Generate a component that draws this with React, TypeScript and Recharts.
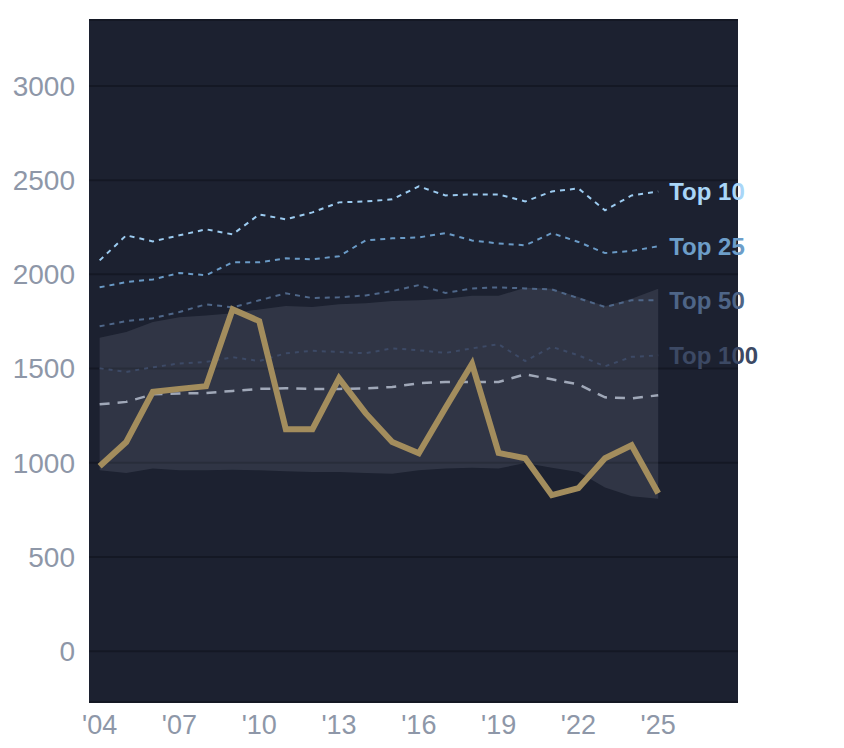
import { ComposedChart, Area, Line, XAxis, YAxis, CartesianGrid, LabelList } from 'recharts'

const years = [2004, 2005, 2006, 2007, 2008, 2009, 2010, 2011, 2012, 2013, 2014, 2015, 2016, 2017, 2018, 2019, 2020, 2021, 2022, 2023, 2024, 2025]

const top10 = [2074, 2207, 2175, 2207, 2239, 2212, 2318, 2292, 2329, 2382, 2387, 2398, 2467, 2419, 2424, 2424, 2387, 2440, 2456, 2340, 2419, 2440]
const top25 = [1931, 1959, 1973, 2007, 1995, 2064, 2064, 2085, 2080, 2096, 2180, 2191, 2196, 2219, 2180, 2164, 2154, 2219, 2172, 2113, 2124, 2149]
const top50 = [1724, 1752, 1767, 1800, 1841, 1825, 1862, 1899, 1874, 1878, 1888, 1911, 1943, 1901, 1925, 1931, 1925, 1920, 1873, 1827, 1862, 1862]
const top100 = [1501, 1482, 1507, 1527, 1535, 1560, 1540, 1581, 1594, 1588, 1581, 1607, 1597, 1583, 1607, 1629, 1540, 1615, 1570, 1512, 1562, 1570]
const median = [1310, 1323, 1363, 1368, 1370, 1381, 1392, 1395, 1392, 1392, 1395, 1402, 1422, 1429, 1429, 1429, 1469, 1443, 1416, 1347, 1342, 1358]
const highlight = [981, 1110, 1376, 1392, 1406, 1814, 1752, 1178, 1178, 1448, 1263, 1110, 1050, 1290, 1525, 1052, 1024, 828, 865, 1024, 1093, 838]
const bandLow = [960, 946, 969, 960, 960, 963, 960, 955, 951, 951, 946, 942, 960, 969, 974, 969, 999, 974, 951, 868, 822, 809]
const bandHigh = [1664, 1694, 1747, 1772, 1782, 1793, 1814, 1832, 1827, 1841, 1846, 1858, 1862, 1871, 1886, 1886, 1929, 1924, 1880, 1830, 1871, 1924]

const xTicks = [2004, 2007, 2010, 2013, 2016, 2019, 2022, 2025]
const yTicks = [0, 500, 1000, 1500, 2000, 2500, 3000]

const data = years.map((year, i) => ({
  year,
  top10: top10[i],
  top25: top25[i],
  top50: top50[i],
  top100: top100[i],
  median: median[i],
  highlight: highlight[i],
  band: [bandLow[i], bandHigh[i]],
}))

const font = '"Liberation Sans", Arial, sans-serif'
const last = years.length - 1

// label at the end of each "Top N" line
function endLabel(text: string, color: string) {
  return (props: any) => {
    if (props.index !== last) return null
    return (
      <text x={props.x + 11} y={props.y} dy="0.35em" fill={color} fontSize={24} fontWeight="bold" fontFamily={font}>
        {text}
      </text>
    )
  }
}

export default function App() {
  return (
    <div style={{ position: 'absolute', left: 0, top: 0, width: 844, height: 748, background: '#fff' }}>
      <ComposedChart width={844} height={748} data={data} margin={{ top: 20, right: 106, bottom: 0, left: 0 }}>
        <CartesianGrid vertical={false} fill="#1c2130" stroke="#141824" strokeWidth={2} />
        <XAxis
          dataKey="year"
          type="number"
          domain={[2003.6, 2028]}
          ticks={xTicks}
          tickFormatter={(v) => `'${String(v).slice(2)}`}
          axisLine={false}
          tickLine={false}
          tickSize={0}
          tickMargin={13}
          height={46}
          tick={{ fill: '#8e97a8', fontSize: 27, fontFamily: font }}
        />
        <YAxis
          type="number"
          domain={[-270, 3350]}
          ticks={yTicks}
          axisLine={false}
          tickLine={false}
          tickSize={0}
          tickMargin={14}
          width={89}
          tick={{ fill: '#8e97a8', fontSize: 28, fontFamily: font }}
        />
        <Area dataKey="band" type="linear" stroke="none" fill="#e6ecff" fillOpacity={0.1} isAnimationActive={false} />
        <Line dataKey="top100" type="linear" stroke="#3d4a66" strokeWidth={2} strokeDasharray="4 5" dot={false} isAnimationActive={false}>
          <LabelList dataKey="top100" content={endLabel('Top 100', '#3c4964')} />
        </Line>
        <Line dataKey="top50" type="linear" stroke="#4f6789" strokeWidth={2} strokeDasharray="5 5" dot={false} isAnimationActive={false}>
          <LabelList dataKey="top50" content={endLabel('Top 50', '#4e6587')} />
        </Line>
        <Line dataKey="top25" type="linear" stroke="#6a9ac6" strokeWidth={2} strokeDasharray="5 5" dot={false} isAnimationActive={false}>
          <LabelList dataKey="top25" content={endLabel('Top 25', '#6d9ec9')} />
        </Line>
        <Line dataKey="top10" type="linear" stroke="#9ccbf0" strokeWidth={2} strokeDasharray="5 5" dot={false} isAnimationActive={false}>
          <LabelList dataKey="top10" content={endLabel('Top 10', '#a9d6f8')} />
        </Line>
        <Line dataKey="median" type="linear" stroke="#a0a8b8" strokeWidth={2.5} strokeDasharray="10 8" dot={false} isAnimationActive={false} />
        <Line dataKey="highlight" type="linear" stroke="#a38d5d" strokeWidth={6} dot={false} isAnimationActive={false} />
      </ComposedChart>
    </div>
  )
}
